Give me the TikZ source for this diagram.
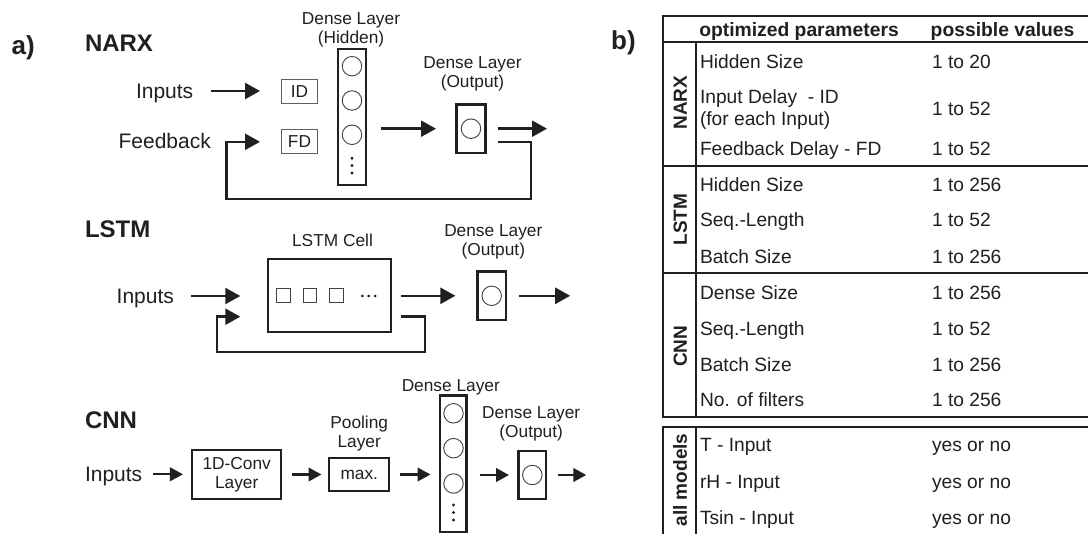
\documentclass[tikz,border=0pt]{standalone}
\usepackage{fontspec}
\setmainfont{Liberation Sans}
\usetikzlibrary{arrows.meta}
\definecolor{ink}{RGB}{34,31,32}
\definecolor{thinc}{RGB}{95,95,95}
\newcommand\fBig{\fontsize{21}{24}\selectfont}
\newcommand\fLbl{\fontsize{17.3}{19}\selectfont}
\newcommand\fTtl{\fontsize{24}{28}\selectfont\bfseries}
\newcommand\fPanel{\fontsize{26}{30}\selectfont\bfseries}
\newcommand\fTab{\fontsize{19.2}{21.6}\selectfont}
\newcommand\fTabB{\fontsize{19.3}{22}\selectfont\bfseries}
\newcommand\fVl{\fontsize{19}{22}\selectfont\bfseries}
\tikzset{
  txt/.style={inner sep=0pt, outer sep=0pt, text=ink},
  big/.style={txt, font=\fBig, text height=15pt, text depth=0pt},
  lbl/.style={txt, font=\fLbl, align=center},
  lbl1/.style={txt, font=\fLbl, text height=12.4pt, text depth=0pt},
  ttl/.style={txt, font=\fTtl, text height=17.2pt, text depth=0pt, anchor=west},
  panel/.style={txt, font=\fPanel, text height=18.6pt, text depth=0pt},
  tab/.style={txt, font=\fTab, text height=13.75pt, text depth=0pt, anchor=west},
  tabb/.style={txt, font=\fTabB, text height=13.8pt, text depth=0pt, anchor=west},
  vlab/.style={txt, font=\fVl, rotate=90, text height=13.6pt, text depth=0pt},
  thickbox/.style={draw=ink, line width=2.3pt, inner sep=0pt, outer sep=0pt},
  thinbox/.style={draw=thinc, line width=0.9pt, inner sep=0pt, outer sep=0pt, font=\fLbl, text=ink},
  neuron/.style={circle, draw=ink!85, line width=0.9pt, minimum size=19.5pt, inner sep=0pt},
  cellsq/.style={draw=ink!85, line width=0.9pt, minimum width=13.5pt, minimum height=14pt, inner sep=0pt},
  dotn/.style={circle, fill=ink, inner sep=0pt, minimum size=3.2pt},
  arr/.style={draw=ink, line width=2.4pt, -{Triangle[length=15pt,width=16pt]}},
  arrs/.style={draw=ink, line width=2.4pt, -{Triangle[length=13pt,width=13.5pt]}},
  tl/.style={draw=ink, line width=2pt},
}
\begin{document}
\begin{tikzpicture}[x=1pt,y=-1pt]
\fill[white] (0,0) rectangle (1088,534);
\useasboundingbox (0,0) rectangle (1088,534);

% ---------------- panel labels
\node[panel] (pa) at (23.3,45.4) {a)};
\node[panel] (pb) at (623.5,40) {b)};

% ---------------- NARX
\node[ttl] (tNarx) at (85,42.5) {NARX};
\node[big, anchor=west] (nIn) at (136,91) {Inputs};
\node[big, anchor=west] (nFb) at (118.6,141.5) {Feedback};
\node[thinbox, minimum width=36.1pt, minimum height=24.1pt] (nID) at (299.5,91.5) {ID};
\node[thinbox, minimum width=36.1pt, minimum height=24.1pt] (nFD) at (299.5,141.8) {FD};
\node[thickbox, minimum width=27.7pt, minimum height=135.7pt] (nHid) at (352,117) {};
\node[neuron] (nH1) at (352,66.2) {};
\node[neuron] (nH2) at (352,100.5) {};
\node[neuron] (nH3) at (352,134.8) {};
\node[dotn] (nD1) at (352,158.3) {};
\node[dotn] (nD2) at (352,165.6) {};
\node[dotn] (nD3) at (352,173) {};
\node[lbl] (nHidL) at (351,30) {Dense Layer\\(Hidden)};
\node[thickbox, minimum width=29pt, minimum height=48.4pt] (nOut) at (471,128.7) {};
\node[neuron] (nO) at (471,128.7) {};
\node[lbl] (nOutL) at (472.5,73.6) {Dense Layer\\(Output)};
\coordinate (nOutTip) at (547,128.7);
\coordinate (nL0) at (497.5,142);
\coordinate (nL1) at (531,142);
\coordinate (nL2) at (226.5,199);

\draw[arr, shorten <=17.3pt, shorten >=21.45pt] (nIn.east) -- (nIn.east -| nID.west);
\draw[arr, shorten <=15pt, shorten >=20.5pt] (nHid.east |- nO) -- (nOut.west);
\draw[arr, shorten <=12pt] (nOut.east) -- (nOutTip);
\draw[arr, shorten >=21.45pt] (nL0) -- (nL1) |- (nL2) |- (nFD.west);

% ---------------- LSTM
\node[ttl] (tLstm) at (85,228.7) {LSTM};
\node[big, anchor=west] (lIn) at (116.7,296) {Inputs};
\node[thickbox, line width=2.2pt, minimum width=123.5pt, minimum height=73pt] (lCell) at (329.5,295.8) {};
\node[cellsq] (lS1) at (283.5,295.8) {};
\node[cellsq] (lS2) at (310,295.8) {};
\node[cellsq] (lS3) at (336.5,295.8) {};
\node[dotn, minimum size=3pt] (lD1) at (362.3,296) {};
\node[dotn, minimum size=3pt] (lD2) at (368.7,296) {};
\node[dotn, minimum size=3pt] (lD3) at (375.1,296) {};
\node[lbl1] (lCellL) at (332.5,240) {LSTM Cell};
\node[thickbox, minimum width=28.3pt, minimum height=48.4pt] (lOut) at (491.7,295.8) {};
\node[neuron] (lO) at (491.7,295.8) {};
\node[lbl] (lOutL) at (493.3,241.9) {Dense Layer\\(Output)};
\coordinate (lOutTip) at (570.2,295.8);
\coordinate (lL0) at (401,316.7);
\coordinate (lL1) at (424.8,316.7);
\coordinate (lL2) at (217,352);
\coordinate (lL3) at (240.3,316.7);

\draw[arr, shorten <=17.4pt, shorten >=27.45pt] (lIn.east) -- (lIn.east -| lCell.west);
\draw[arr, shorten <=9.75pt, shorten >=22.15pt] (lCell.east) -- (lOut.west);
\draw[arr, shorten <=13.45pt] (lOut.east) -- (lOutTip);
\draw[arr] (lL0) -- (lL1) |- (lL2) |- (lL3);

% ---------------- CNN
\node[ttl] (tCnn) at (85,420) {CNN};
\node[big, anchor=west] (cIn) at (85,474.3) {Inputs};
\node[thickbox, line width=2pt, minimum width=88.7pt, minimum height=49pt, font=\fLbl, text=ink, align=center] (cConv) at (236.65,474.5) {1D-Conv\\Layer};
\node[thickbox, line width=2pt, minimum width=60pt, minimum height=32.4pt, font=\fLbl, text=ink] (cMax) at (359.3,474.5) {max.};
\node[lbl] (cPoolL) at (359.2,433.2) {Pooling\\Layer};
\node[thickbox, minimum width=26.7pt, minimum height=136.7pt] (cDense) at (453,464) {};
\node[neuron] (cH1) at (453.5,413.3) {};
\node[neuron] (cH2) at (453.5,448.2) {};
\node[neuron] (cH3) at (453.5,483.5) {};
\node[dotn] (cD1) at (453.5,505) {};
\node[dotn] (cD2) at (453.5,512.5) {};
\node[dotn] (cD3) at (453.5,520) {};
\node[lbl1] (cDenseL) at (450.8,385) {Dense Layer};
\node[thickbox, minimum width=27.6pt, minimum height=48.4pt] (cOut) at (532.35,475) {};
\node[neuron] (cO) at (532.35,475) {};
\node[lbl] (cOutL) at (531.2,423.5) {Dense Layer\\(Output)};
\coordinate (cOutTip) at (586.3,475);

\draw[arrs, shorten <=10.8pt, shorten >=9.35pt] (cIn.east) -- (cIn.east -| cConv.west);
\draw[arrs, shorten <=10.6pt, shorten >=7.8pt] (cConv.east) -- (cMax.west);
\draw[arrs, shorten <=10.7pt, shorten >=9.15pt] (cMax.east) -- (cMax.east -| cDense.west);
\draw[arrs, shorten <=13.15pt, shorten >=9.55pt] (cDense.east |- cO) -- (cOut.west);
\draw[arrs, shorten <=11.85pt] (cOut.east) -- (cOutTip);

% ---------------- table
\draw[tl] (1090,15.7) -- (663,15.7) -- (663,417.3) -- (1090,417.3);
\draw[tl] (663,41.7) -- (1090,41.7);
\draw[tl] (696,41.7) -- (696,417.3);
\draw[tl] (663,166) -- (1090,166);
\draw[tl] (663,273.3) -- (1090,273.3);
\draw[tl] (1090,426.7) -- (663,426.7) -- (663,536);
\draw[tl] (696,426.7) -- (696,536);

\node[tabb] (hP) at (699.3,30) {optimized parameters};
\node[tabb] (hV) at (930.7,30) {possible values};

\node[vlab] (vNarx) at (680,102.8) {NARX};
\node[vlab] (vLstm) at (680,219.5) {LSTM};
\node[vlab] (vCnn) at (680,346.3) {CNN};
\node[vlab] (vAll) at (680,480) {all models};

\node[tab] (p1) at (700,62) {Hidden Size};
\node[tab] (v1) at (932,62) {1 to 20};
\node[txt, font=\fTab, align=left, anchor=west] (p2) at (700,109.3) {Input Delay~ - ID\\(for each Input)};
\node[tab] (v2) at (932,108.3) {1 to 52};
\node[tab] (p3) at (700,148.3) {Feedback Delay - FD};
\node[tab] (v3) at (932,148.3) {1 to 52};
\node[tab] (p4) at (700,185) {Hidden Size};
\node[tab] (v4) at (932,185) {1 to 256};
\node[tab] (p5) at (700,220) {Seq.-Length};
\node[tab] (v5) at (932,220) {1 to 52};
\node[tab] (p6) at (700,256.7) {Batch Size};
\node[tab] (v6) at (932,256.7) {1 to 256};
\node[tab] (p7) at (700,292.3) {Dense Size};
\node[tab] (v7) at (932,292.3) {1 to 256};
\node[tab] (p8) at (700,328.3) {Seq.-Length};
\node[tab] (v8) at (932,328.3) {1 to 52};
\node[tab] (p9) at (700,364.3) {Batch Size};
\node[tab] (v9) at (932,364.3) {1 to 256};
\node[tab] (p10) at (700,400) {No. of filters};
\node[tab] (v10) at (932,400) {1 to 256};
\node[tab] (p11) at (700,445) {T - Input};
\node[tab] (v11) at (932,445) {yes or no};
\node[tab] (p12) at (700,481.7) {rH - Input};
\node[tab] (v12) at (932,481.7) {yes or no};
\node[tab] (p13) at (700,517.7) {Tsin - Input};
\node[tab] (v13) at (932,517.7) {yes or no};
\end{tikzpicture}
\end{document}
